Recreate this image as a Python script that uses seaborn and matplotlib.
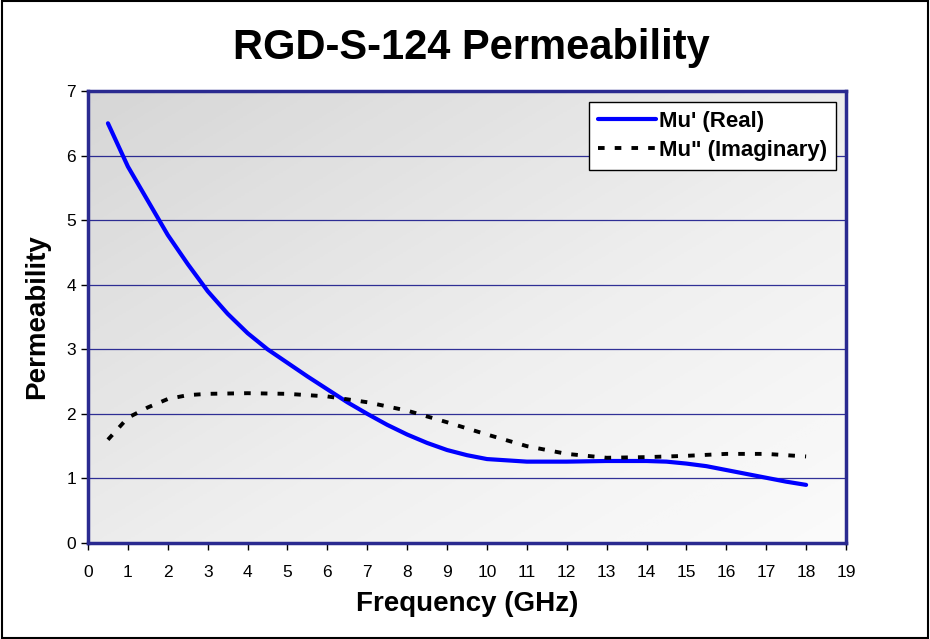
import numpy as np
import pandas as pd
import matplotlib
matplotlib.use("Agg")
import matplotlib.pyplot as plt
import seaborn as sns
from matplotlib.patches import Rectangle

# values
freq_real = [0.5, 1, 1.5, 2, 2.5, 3, 3.5, 4, 4.5, 5, 5.5, 6, 6.5, 7, 7.5, 8, 8.5, 9,
             9.5, 10, 10.5, 11, 12, 13, 14, 14.5, 15, 15.5, 16, 16.5, 17, 17.5, 18]
mu_real = [6.5, 5.83, 5.3, 4.77, 4.32, 3.9, 3.55, 3.25, 3.0, 2.79, 2.58, 2.38, 2.18,
           2.0, 1.83, 1.68, 1.55, 1.44, 1.36, 1.3, 1.28, 1.26, 1.26, 1.27, 1.27, 1.26,
           1.23, 1.19, 1.13, 1.07, 1.01, 0.95, 0.9]

freq_imag = [0.5, 1, 1.5, 2, 2.5, 3, 4, 5, 6, 7, 8, 9, 10, 11, 12, 13, 14, 15, 16,
             17, 18]
mu_imag = [1.6, 1.94, 2.1, 2.23, 2.29, 2.31, 2.32, 2.31, 2.27, 2.18, 2.05, 1.87, 1.68,
           1.5, 1.38, 1.32, 1.33, 1.35, 1.38, 1.38, 1.34]

real_label = "Mu' (Real)"
imag_label = 'Mu" (Imaginary)'

df_real = pd.DataFrame({"freq": freq_real, "mu": mu_real, "series": real_label})
df_imag = pd.DataFrame({"freq": freq_imag, "mu": mu_imag, "series": imag_label})

sns.set_style("white")
plt.rcParams["font.family"] = ["Liberation Sans", "DejaVu Sans"]
plt.rcParams["text.color"] = "black"
plt.rcParams["axes.labelcolor"] = "black"
plt.rcParams["xtick.color"] = "black"
plt.rcParams["ytick.color"] = "black"

fig = plt.figure(figsize=(9.30, 6.39), dpi=100)
ax = fig.add_axes([88 / 930, 1 - 543 / 639, (846 - 88) / 930, (543 - 91) / 639])

# gradient fill, grey top-left to white bottom-right
gx, gy = np.meshgrid(np.linspace(0, 1, 200), np.linspace(0, 1, 200))
grad = (gx + gy) / 2
ax.imshow(grad, extent=[0, 1, 0, 1], transform=ax.transAxes, cmap="Greys_r",
          vmin=-3.2, vmax=1.15, aspect="auto", zorder=0, origin="upper")

sns.lineplot(data=df_real, x="freq", y="mu", color="#0000ff", lw=3,
             label=real_label, ax=ax, zorder=3)
sns.lineplot(data=df_imag, x="freq", y="mu", color="black", lw=2.8,
             label=imag_label, ax=ax, zorder=3)
ax.lines[-1].set_dashes((1.7, 2.6))

ax.set_xlim(0, 19)
ax.set_ylim(0, 7)
ax.set_xticks(range(0, 20))
ax.set_yticks(range(0, 8))
ax.yaxis.grid(True, color="#000080", lw=0.9, alpha=0.8)
for line in ax.get_ygridlines():
    line.set_zorder(1)
for s in ax.spines.values():
    s.set_color("#2a2a90")
    s.set_linewidth(2.5)
ax.tick_params(axis="both", direction="out", length=5, width=1, color="black",
               labelsize=12.5, bottom=True, left=True)
ax.tick_params(axis="x", pad=11)

ax.set_xlabel("Frequency (GHz)", fontsize=20, fontweight="bold", labelpad=8)
ax.set_ylabel("Permeability", fontsize=20, fontweight="bold", labelpad=12)
fig.text(471 / 930, 1 - 48 / 639, "RGD-S-124 Permeability", fontsize=30,
         fontweight="bold", ha="center", va="center")

leg = ax.legend(loc="upper right", bbox_to_anchor=(0.987, 0.975), fontsize=16,
                frameon=True, fancybox=False, handlelength=2.6, borderpad=0.4,
                labelspacing=0.35, handletextpad=0.15, borderaxespad=0)
leg.get_frame().set_edgecolor("black")
leg.get_frame().set_linewidth(1)
leg.get_frame().set_facecolor("white")
leg.get_frame().set_alpha(1)
for t in leg.get_texts():
    t.set_fontweight("bold")

fig.patches.append(Rectangle((0.002, 0.002), 0.996, 0.996, transform=fig.transFigure,
                             fill=False, edgecolor="black", lw=1.5))

fig.savefig("out.png", dpi=100)
